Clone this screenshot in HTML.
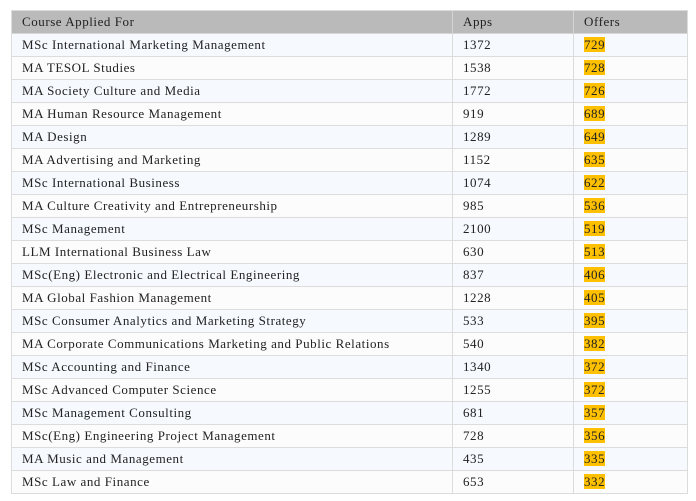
<!DOCTYPE html>
<html><head><meta charset="utf-8"><style>
html,body{margin:0;padding:0;background:#fff;}
body{width:696px;height:501px;position:relative;overflow:hidden;font-family:"Liberation Serif","Times New Roman",serif;font-size:13px;color:#222;letter-spacing:0.55px;}
.t{position:absolute;left:11px;top:10px;width:675px;border:1px solid #dcdcdc;border-bottom:none;}
.r{height:22px;border-bottom:1px solid #dcdcdc;display:flex;line-height:22px;}
.r.h{background:#bababa;color:#222;border-bottom:1px solid #d6d6d6;}
.r.o{background:#f6f9fe;}
.r.e{background:#fcfcfc;}
.c1{width:430px;padding-left:10px;border-right:1px solid #dcdcdc;white-space:nowrap;}
.c2{width:110px;padding-left:10px;border-right:1px solid #dcdcdc;}
.c3{flex:1;padding-left:10px;}
.h .c1,.h .c2{border-right:1px solid #d4d4d4;}
.y{background:#ffc000;}
</style></head><body>
<div class="t">
<div class="r h"><div class="c1">Course Applied For</div><div class="c2">Apps</div><div class="c3">Offers</div></div>
<div class="r o"><div class="c1">MSc International Marketing Management</div><div class="c2">1372</div><div class="c3"><span class="y">729</span></div></div>
<div class="r e"><div class="c1">MA TESOL Studies</div><div class="c2">1538</div><div class="c3"><span class="y">728</span></div></div>
<div class="r o"><div class="c1">MA Society Culture and Media</div><div class="c2">1772</div><div class="c3"><span class="y">726</span></div></div>
<div class="r e"><div class="c1">MA Human Resource Management</div><div class="c2">919</div><div class="c3"><span class="y">689</span></div></div>
<div class="r o"><div class="c1">MA Design</div><div class="c2">1289</div><div class="c3"><span class="y">649</span></div></div>
<div class="r e"><div class="c1">MA Advertising and Marketing</div><div class="c2">1152</div><div class="c3"><span class="y">635</span></div></div>
<div class="r o"><div class="c1">MSc International Business</div><div class="c2">1074</div><div class="c3"><span class="y">622</span></div></div>
<div class="r e"><div class="c1">MA Culture Creativity and Entrepreneurship</div><div class="c2">985</div><div class="c3"><span class="y">536</span></div></div>
<div class="r o"><div class="c1">MSc Management</div><div class="c2">2100</div><div class="c3"><span class="y">519</span></div></div>
<div class="r e"><div class="c1">LLM International Business Law</div><div class="c2">630</div><div class="c3"><span class="y">513</span></div></div>
<div class="r o"><div class="c1">MSc(Eng) Electronic and Electrical Engineering</div><div class="c2">837</div><div class="c3"><span class="y">406</span></div></div>
<div class="r e"><div class="c1">MA Global Fashion Management</div><div class="c2">1228</div><div class="c3"><span class="y">405</span></div></div>
<div class="r o"><div class="c1">MSc Consumer Analytics and Marketing Strategy</div><div class="c2">533</div><div class="c3"><span class="y">395</span></div></div>
<div class="r e"><div class="c1">MA Corporate Communications Marketing and Public Relations</div><div class="c2">540</div><div class="c3"><span class="y">382</span></div></div>
<div class="r o"><div class="c1">MSc Accounting and Finance</div><div class="c2">1340</div><div class="c3"><span class="y">372</span></div></div>
<div class="r e"><div class="c1">MSc Advanced Computer Science</div><div class="c2">1255</div><div class="c3"><span class="y">372</span></div></div>
<div class="r o"><div class="c1">MSc Management Consulting</div><div class="c2">681</div><div class="c3"><span class="y">357</span></div></div>
<div class="r e"><div class="c1">MSc(Eng) Engineering Project Management</div><div class="c2">728</div><div class="c3"><span class="y">356</span></div></div>
<div class="r o"><div class="c1">MA Music and Management</div><div class="c2">435</div><div class="c3"><span class="y">335</span></div></div>
<div class="r e"><div class="c1">MSc Law and Finance</div><div class="c2">653</div><div class="c3"><span class="y">332</span></div></div>
</div>
</body></html>
